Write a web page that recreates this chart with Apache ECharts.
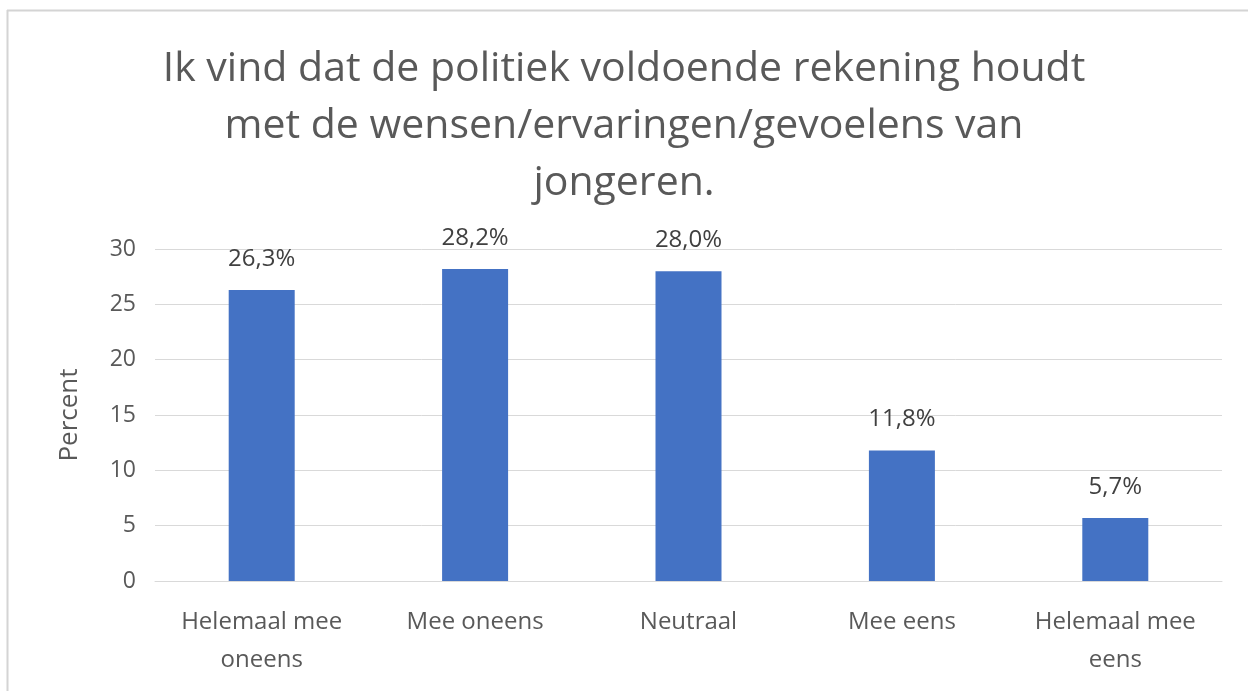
<!DOCTYPE html>
<html><head><meta charset="utf-8">
<script src="https://cdn.jsdelivr.net/npm/echarts@6/dist/echarts.min.js"></script>
<style>html,body{margin:0;padding:0;background:#fff}#c{width:1248px;height:691px}</style>
</head><body><div id="c"></div>
<script>
const titleText = "Ik vind dat de politiek voldoende rekening houdt\nmet de wensen/ervaringen/gevoelens van\njongeren.";
const categories = ["Helemaal mee\noneens", "Mee oneens", "Neutraal", "Mee eens", "Helemaal mee\neens"];
const values = [26.3, 28.2, 28.0, 11.8, 5.7];
const yTicks = [0, 5, 10, 15, 20, 25, 30];
const yAxisName = "Percent";

const chart = echarts.init(document.getElementById('c'), null, {renderer: 'canvas'});
const font = "'Open Sans', sans-serif";
chart.setOption({
  animation: false,
  backgroundColor: '#ffffff',
  graphic: [
    {type: 'line', shape: {x1: 7, y1: 10.5, x2: 1248, y2: 10.5}, style: {stroke: '#d4d4d4', lineWidth: 2}},
    {type: 'line', shape: {x1: 7.5, y1: 10, x2: 7.5, y2: 691}, style: {stroke: '#d4d4d4', lineWidth: 2}}
  ],
  title: {
    text: titleText,
    left: 'center',
    top: 36,
    textStyle: {fontFamily: font, fontSize: 41, fontWeight: 'normal', color: '#595959', lineHeight: 57}
  },
  grid: {left: 155, right: 26, top: 249, bottom: 110, containLabel: false},
  xAxis: {
    type: 'category',
    data: categories,
    axisLine: {lineStyle: {color: '#d9d9d9', width: 1}},
    axisTick: {show: false},
    axisLabel: {color: '#595959', fontFamily: font, fontSize: 24, lineHeight: 38, margin: 22, interval: 0}
  },
  yAxis: {
    type: 'value',
    min: yTicks[0],
    max: yTicks[yTicks.length - 1],
    interval: 5,
    name: yAxisName,
    nameLocation: 'middle',
    nameGap: 72,
    nameTextStyle: {color: '#595959', fontFamily: font, fontSize: 26},
    axisLine: {show: false},
    axisTick: {show: false},
    splitLine: {lineStyle: {color: '#d9d9d9', width: 1}},
    axisLabel: {color: '#595959', fontFamily: font, fontSize: 23, margin: 19}
  },
  series: [{
    type: 'bar',
    data: values,
    barWidth: 66,
    itemStyle: {color: '#4472C4'},
    label: {
      show: true,
      position: 'top',
      distance: 19,
      color: '#404040',
      fontFamily: font,
      fontSize: 24,
      formatter: p => p.value.toFixed(1).replace('.', ',') + '%'
    }
  }]
});
</script></body></html>
